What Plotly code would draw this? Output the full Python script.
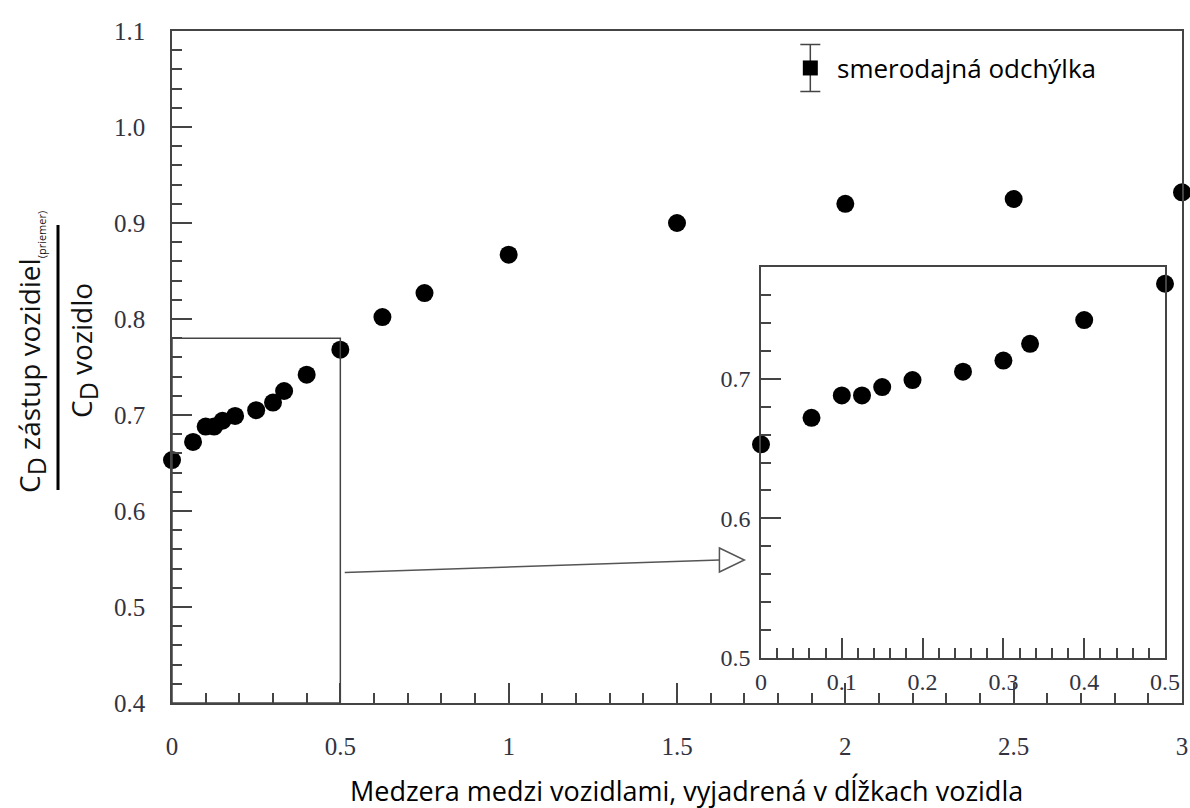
import plotly.graph_objects as go

# Data
gap_inset = [0.0, 0.0625, 0.1, 0.125, 0.15, 0.1875, 0.25, 0.3, 0.333, 0.4, 0.5]
cd_inset = [0.653, 0.672, 0.688, 0.688, 0.694, 0.699, 0.705, 0.713, 0.725, 0.742, 0.768]
gap_far = [0.625, 0.75, 1.0, 1.5, 2.0, 2.5, 3.0]
cd_far = [0.802, 0.827, 0.867, 0.900, 0.920, 0.925, 0.932]

main_xticks = [0, 0.5, 1, 1.5, 2, 2.5, 3]
main_xlabels = ["0", "0.5", "1", "1.5", "2", "2.5", "3"]
main_yticks = [0.4, 0.5, 0.6, 0.7, 0.8, 0.9, 1.0, 1.1]
main_ylabels = ["0.4", "0.5", "0.6", "0.7", "0.8", "0.9", "1.0", "1.1"]
inset_xticks = [0, 0.1, 0.2, 0.3, 0.4, 0.5]
inset_xlabels = ["0", "0.1", "0.2", "0.3", "0.4", "0.5"]
inset_yticks = [0.5, 0.6, 0.7]
inset_ylabels = ["0.5", "0.6", "0.7"]

legend_label = "smerodajná odchýlka"
x_title = "Medzera medzi vozidlami, vyjadrená v dĺžkach vozidla"

W, H = 1190, 808
# pixel frames (window coordinates)
mx0, mx1, my0, my1 = 172, 1182, 31, 703
ix0, ix1, iy0, iy1 = 761, 1165, 267, 658

def px_x(p):
    return p / W

def px_y(p):
    return (H - p) / H

tick_font = dict(family="Liberation Serif, Times New Roman, serif", size=25, color="#333340")
inset_tick_font = dict(family="Liberation Serif, Times New Roman, serif", size=24, color="#333340")
axis_color = "#444444"
sans = "Open Sans, Liberation Sans, sans-serif"

fig = go.Figure()

marker = dict(color="black", size=18, symbol="circle")

fig.add_trace(go.Scatter(x=gap_inset + gap_far, y=cd_inset + cd_far, mode="markers",
                         marker=marker, xaxis="x", yaxis="y", showlegend=False,
                         cliponaxis=False))
fig.add_trace(go.Scatter(x=gap_inset, y=cd_inset, mode="markers", marker=marker,
                         xaxis="x2", yaxis="y2", showlegend=False, cliponaxis=False))

# legend sample with error bar
fig.add_trace(go.Scatter(x=[1.896], y=[1.0615], mode="markers",
                         marker=dict(color="black", size=15, symbol="square"),
                         error_y=dict(type="data", array=[0.0245], color="#444444",
                                      thickness=1.5, width=10),
                         xaxis="x", yaxis="y", showlegend=False))

common_axis = dict(showgrid=False, zeroline=False, showline=True, linecolor=axis_color,
                   linewidth=1.5, mirror=True, ticks="inside", tickcolor=axis_color,
                   tickwidth=1.5, ticklen=20, automargin=False)
minor_common = dict(ticks="inside", ticklen=10, tickcolor=axis_color, tickwidth=1.5,
                    showgrid=False)

fig.update_layout(
    template="none",
    width=W, height=H,
    margin=dict(l=0, r=0, t=0, b=0, pad=0),
    paper_bgcolor="white", plot_bgcolor="white",
    xaxis=dict(**common_axis, domain=[px_x(mx0), px_x(mx1)], range=[0, 3],
               tickvals=main_xticks, ticktext=main_xlabels, tickfont=tick_font,
               ticklabelstandoff=20, minor=dict(dtick=0.1, **minor_common)),
    yaxis=dict(**common_axis, domain=[px_y(my1), px_y(my0)], range=[0.4, 1.1],
               tickvals=main_yticks, ticktext=main_ylabels, tickfont=tick_font,
               ticklabelstandoff=20, minor=dict(dtick=0.02, **minor_common)),
    xaxis2=dict(**common_axis, domain=[px_x(ix0), px_x(ix1)], range=[0, 0.5],
                anchor="y2", tickvals=inset_xticks, ticktext=inset_xlabels,
                tickfont=inset_tick_font, ticklabelstandoff=1,
                minor=dict(dtick=0.02, **minor_common)),
    yaxis2=dict(**common_axis, domain=[px_y(iy1), px_y(iy0)], range=[0.5, 0.78],
                anchor="x2", tickvals=inset_yticks, ticktext=inset_ylabels,
                tickfont=inset_tick_font, ticklabelstandoff=4,
                minor=dict(dtick=0.02, **minor_common)),
)

# zoom region rectangle on main plot
zx0, zx1 = 0.0, 0.5
zy0, zy1 = 0.4, 0.78
fig.add_shape(type="rect", xref="x", yref="y", x0=zx0, x1=zx1, y0=zy0, y1=zy1,
              line=dict(color=axis_color, width=1.5), fillcolor="rgba(0,0,0,0)")

# arrow to inset
fig.add_shape(type="line", xref="x", yref="y", x0=0.513, y0=0.536, x1=1.626, y1=0.549,
              line=dict(color="#555555", width=1.5))
fig.add_shape(type="path", xref="x", yref="y",
              path="M 1.626,0.5615 L 1.700,0.549 L 1.626,0.5365 Z",
              line=dict(color="#555555", width=1.5), fillcolor="white")

# legend text
fig.add_annotation(x=1.97, y=1.0615, xref="x", yref="y", text=legend_label,
                   showarrow=False, xanchor="left", yanchor="middle",
                   font=dict(family=sans, size=26, color="black"))

# x title
fig.add_annotation(x=px_x(687), y=px_y(790), xref="paper", yref="paper", text=x_title,
                   showarrow=False, xanchor="center", yanchor="middle",
                   font=dict(family=sans, size=27, color="black"))

# y title as a fraction
title_font = dict(family=sans, size=28, color="#111111")
fig.add_annotation(x=px_x(31), y=px_y(352), xref="paper", yref="paper",
                   text="C<sub><span style='font-size:25px'>D</span></sub> zástup vozidiel"
                        "<sub><span style='font-size:11px'>(priemer)</span></sub>",
                   textangle=-90, showarrow=False, xanchor="center", yanchor="middle",
                   font=title_font)
fig.add_annotation(x=px_x(83), y=px_y(351), xref="paper", yref="paper",
                   text="C<sub><span style='font-size:25px'>D</span></sub> vozidlo",
                   textangle=-90, showarrow=False, xanchor="center", yanchor="middle",
                   font=title_font)
fig.add_shape(type="line", xref="paper", yref="paper", x0=px_x(58), x1=px_x(58),
              y0=px_y(225), y1=px_y(490), line=dict(color="black", width=3))

fig.write_html("out.html",
               config={"displayModeBar": False},
               post_script="document.body.style.margin='0';"
                           "document.body.style.overflow='hidden';")
